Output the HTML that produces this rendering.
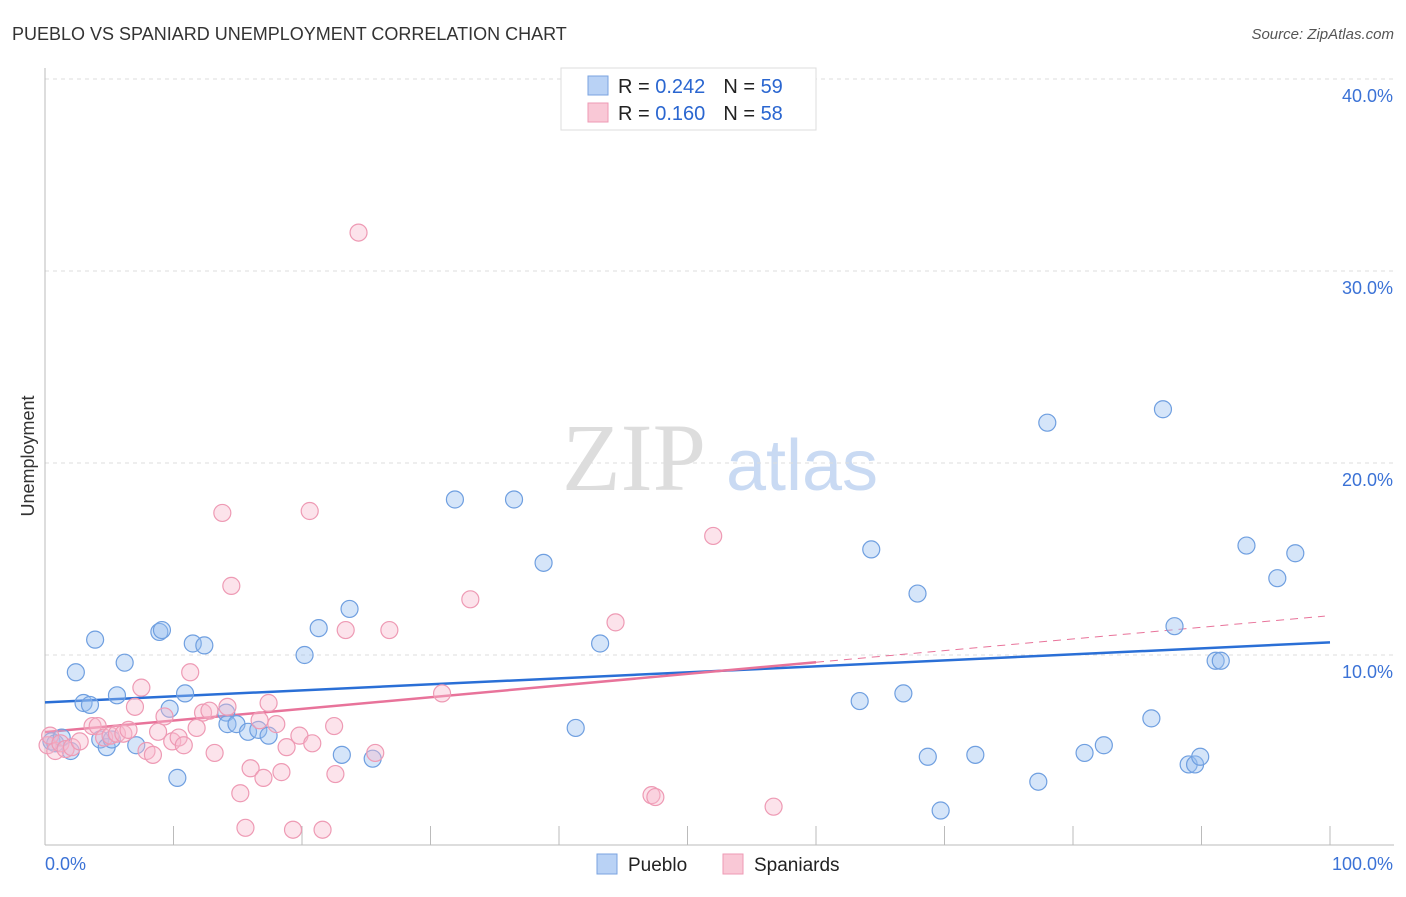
<!DOCTYPE html>
<html><head><meta charset="utf-8"><style>
body{margin:0;background:#fff;font-family:"Liberation Sans",sans-serif;}
svg text{font-family:"Liberation Sans",sans-serif;}
</style></head><body>
<svg id="chart" width="1406" height="892">
<text x="12" y="40" font-size="18" fill="#333">PUEBLO VS SPANIARD UNEMPLOYMENT CORRELATION CHART</text>
<text x="1394" y="39" font-size="15" fill="#555" text-anchor="end" font-style="italic">Source: ZipAtlas.com</text>
<text x="34" y="456" font-size="18" fill="#333" text-anchor="middle" transform="rotate(-90 34 456)">Unemployment</text>
<g>
<text x="634" y="490" font-size="96" fill="#ddd" text-anchor="middle" font-family="Liberation Serif" style="font-family:'Liberation Serif',serif">ZIP</text>
<text x="802" y="490" font-size="72" fill="#c9daf3" text-anchor="middle">atlas</text>
</g>
<g id="grid"></g><g id="axes"></g><g id="trend"></g><g id="pts"></g>
<g>
<rect x="561" y="68" width="255" height="62" fill="#fff" stroke="#ddd"/>
<rect x="588" y="76" width="20" height="19" fill="#b9d2f5" stroke="#7aa3e0"/>
<rect x="588" y="103" width="20" height="19" fill="#f9c8d6" stroke="#ee9ab4"/>
<text x="618" y="93" font-size="20" fill="#222">R = <tspan fill="#2a66d0">0.242</tspan><tspan dx="18">N = </tspan><tspan fill="#2a66d0">59</tspan></text>
<text x="618" y="120" font-size="20" fill="#222">R = <tspan fill="#2a66d0">0.160</tspan><tspan dx="18">N = </tspan><tspan fill="#2a66d0">58</tspan></text>
</g>
<g>
<rect x="597" y="854" width="20" height="20" fill="#b9d2f5" stroke="#7aa3e0"/>
<text x="628" y="871" font-size="19" fill="#222">Pueblo</text>
<rect x="723" y="854" width="20" height="20" fill="#f9c8d6" stroke="#ee9ab4"/>
<text x="754" y="871" font-size="19" fill="#222">Spaniards</text>
</g>
</svg>
<script>
const yTicks=[10,20,30,40];
const yTickLabels=["10.0%","20.0%","30.0%","40.0%"];
const xTickLabels=["0.0%","100.0%"];
const puebloX=[0.5,0.8,1.3,2.0,2.4,3.0,3.5,3.9,4.3,4.8,5.2,5.6,6.2,7.1,8.9,9.1,9.7,10.3,10.9,11.5,12.4,14.1,14.2,14.9,15.8,16.6,17.4,20.2,21.3,23.1,23.7,25.5,31.9,36.5,38.8,41.3,43.2,63.4,64.3,66.8,67.9,68.7,69.7,72.4,77.3,78.0,80.9,82.4,86.1,87.0,87.9,89.0,89.5,89.9,91.1,91.5,93.5,95.9,97.3];
const puebloY=[5.5,5.4,5.7,5.0,9.1,7.5,7.4,10.8,5.6,5.2,5.6,7.9,9.6,5.3,11.2,11.3,7.2,3.6,8.0,10.6,10.5,7.0,6.4,6.4,6.0,6.1,5.8,10.0,11.4,4.8,12.4,4.6,18.1,18.1,14.8,6.2,10.6,7.6,15.5,8.0,13.2,4.7,1.9,4.8,3.4,22.1,4.9,5.3,6.7,22.8,11.5,4.3,4.3,4.7,9.7,9.7,15.7,14.0,15.3];
const spanX=[0.2,0.4,0.8,1.2,1.6,2.1,2.7,3.7,4.1,4.6,5.1,5.6,6.1,6.5,7.0,7.5,7.9,8.4,8.8,9.3,9.9,10.4,10.8,11.3,11.8,12.3,12.8,13.2,13.8,14.2,14.5,15.2,15.6,16.0,16.7,17.0,17.4,18.0,18.4,18.8,19.3,19.8,20.6,20.8,21.6,22.5,22.6,23.4,24.4,25.7,26.8,30.9,33.1,44.4,47.2,47.5,52.0,56.7];
const spanY=[5.3,5.8,5.0,5.4,5.1,5.2,5.5,6.3,6.3,5.7,5.8,5.9,5.9,6.1,7.3,8.3,5.0,4.8,6.0,6.8,5.5,5.7,5.3,9.1,6.2,7.0,7.1,4.9,17.4,7.3,13.6,2.8,1.0,4.1,6.6,3.6,7.5,6.4,3.9,5.2,0.9,5.8,17.5,5.4,0.9,6.3,3.8,11.3,32.0,4.9,11.3,8.0,12.9,11.7,2.7,2.6,16.2,2.1];
const x0=45,x1=1330,yBase=847,pxPer=19.2;
const sx=v=>x0+(x1-x0)*v/100, sy=v=>yBase-v*pxPer;
const NS="http://www.w3.org/2000/svg";
function mk(t,a,p){const e=document.createElementNS(NS,t);for(const k in a)e.setAttribute(k,a[k]);p.appendChild(e);return e;}
const grid=document.getElementById('grid'),axes=document.getElementById('axes');
yTicks.forEach((t,i)=>{
 const g=mk('line',{x1:45,x2:1394,y1:sy(t),y2:sy(t),stroke:'#ddd','stroke-dasharray':'4,4'},grid);
 
 
 const l=mk('text',{x:1393,y:sy(t)+23,'font-size':18,fill:'#3b72d6','text-anchor':'end'},axes);l.textContent=yTickLabels[i];
 
 
});
let a=mk('line',{x1:45,x2:45,y1:68,y2:845,stroke:'#bbb'},axes);


a=mk('line',{x1:45,x2:1394,y1:845,y2:845,stroke:'#bbb'},axes);


for(let i=0;i<=10;i++){const t=mk('line',{x1:sx(i*10),x2:sx(i*10),y1:826,y2:845,stroke:'#bbb'},axes);
 
 }
let l=mk('text',{x:45,y:870,'font-size':18,fill:'#3b72d6'},axes);l.textContent=xTickLabels[0];


l=mk('text',{x:1393,y:870,'font-size':18,fill:'#3b72d6','text-anchor':'end'},axes);l.textContent=xTickLabels[1];


function fit(X,Y){const n=X.length;let mx=0,my=0;X.forEach((v,i)=>{mx+=v;my+=Y[i]});mx/=n;my/=n;let sxy=0,sxx=0;X.forEach((v,i)=>{sxy+=(v-mx)*(Y[i]-my);sxx+=(v-mx)**2});const b=sxy/sxx;return[my-b*mx,b];}
const tr=document.getElementById('trend');
let [a1,b1]=fit(puebloX,puebloY);
let ln=mk('line',{x1:sx(0),y1:sy(a1),x2:sx(100),y2:sy(a1+b1*100),stroke:'#2a6fd6','stroke-width':2.5},tr);


let [a2,b2]=fit(spanX,spanY);
ln=mk('line',{x1:sx(0),y1:sy(a2),x2:sx(60),y2:sy(a2+b2*60),stroke:'#e8739a','stroke-width':2.5},tr);


ln=mk('line',{x1:sx(60),y1:sy(a2+b2*60),x2:sx(99.6),y2:sy(a2+b2*99.6),stroke:'#e8739a','stroke-width':1,'stroke-dasharray':'8,6'},tr);


const pts=document.getElementById('pts');
puebloX.forEach((v,i)=>{const c=mk('circle',{cx:sx(v),cy:sy(puebloY[i]),r:8.5,fill:'rgba(150,190,240,0.4)',stroke:'#6f9fe0','stroke-width':1.2},pts);
 
 });
spanX.forEach((v,i)=>{const c=mk('circle',{cx:sx(v),cy:sy(spanY[i]),r:8.5,fill:'rgba(248,185,205,0.4)',stroke:'#ee9ab4','stroke-width':1.2},pts);
 
 });
</script>
</body></html>
